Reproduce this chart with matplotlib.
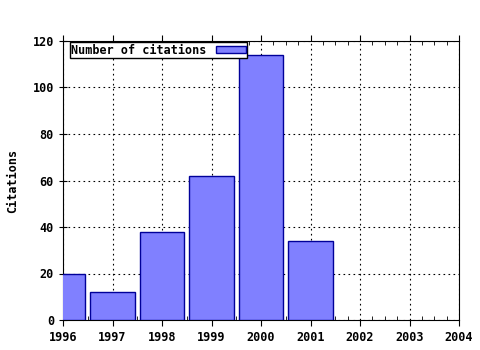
import numpy as np
import matplotlib
matplotlib.use("Agg")
import matplotlib.pyplot as plt
from matplotlib.ticker import MultipleLocator

# --- Data ---
years = [1996, 1997, 1998, 1999, 2000, 2001]
citations = [20, 12, 38, 62, 114, 34]

plt.rcParams['font.family'] = ['DejaVu Sans Mono']
plt.rcParams['font.weight'] = 'bold'

fig = plt.figure(figsize=(4.8, 3.5), dpi=100)
ax = fig.add_axes([63 / 480, 1 - 320 / 350, 396 / 480, 279 / 350])

ax.bar(years, citations, width=0.9, color='#8080ff', edgecolor='#000099',
       linewidth=1, label='Number of citations', zorder=3)

ax.set_xlim(1996, 2004)
ax.set_ylim(0, 120)
ax.xaxis.set_major_locator(MultipleLocator(1))
ax.xaxis.set_minor_locator(MultipleLocator(0.25))
ax.yaxis.set_major_locator(MultipleLocator(20))

ax.grid(True, which='major', color='black', linestyle=(0, (1.5, 3)), linewidth=0.8, zorder=1)

ax.tick_params(axis='x', which='major', direction='out', length=4, labelsize=8.5, pad=4, top=True)
ax.tick_params(axis='x', which='minor', direction='in', length=3, top=True)
ax.tick_params(axis='y', which='major', direction='inout', length=6, labelsize=8.5)
for lab in ax.get_xticklabels() + ax.get_yticklabels():
    lab.set_fontweight('bold')

ax.set_ylabel('Citations', fontsize=8.5, fontweight='bold', labelpad=10)

leg = ax.legend(loc='upper left', bbox_to_anchor=(0.018, 0.995), fontsize=8.5,
                frameon=True, fancybox=False, edgecolor='black', framealpha=1,
                borderpad=0.1, handlelength=2.5, handleheight=0.6, markerfirst=False,
                borderaxespad=0, handletextpad=0.8)
leg.get_frame().set_linewidth(1)
for t in leg.get_texts():
    t.set_fontweight('bold')

fig.savefig('out.png', dpi=100)
